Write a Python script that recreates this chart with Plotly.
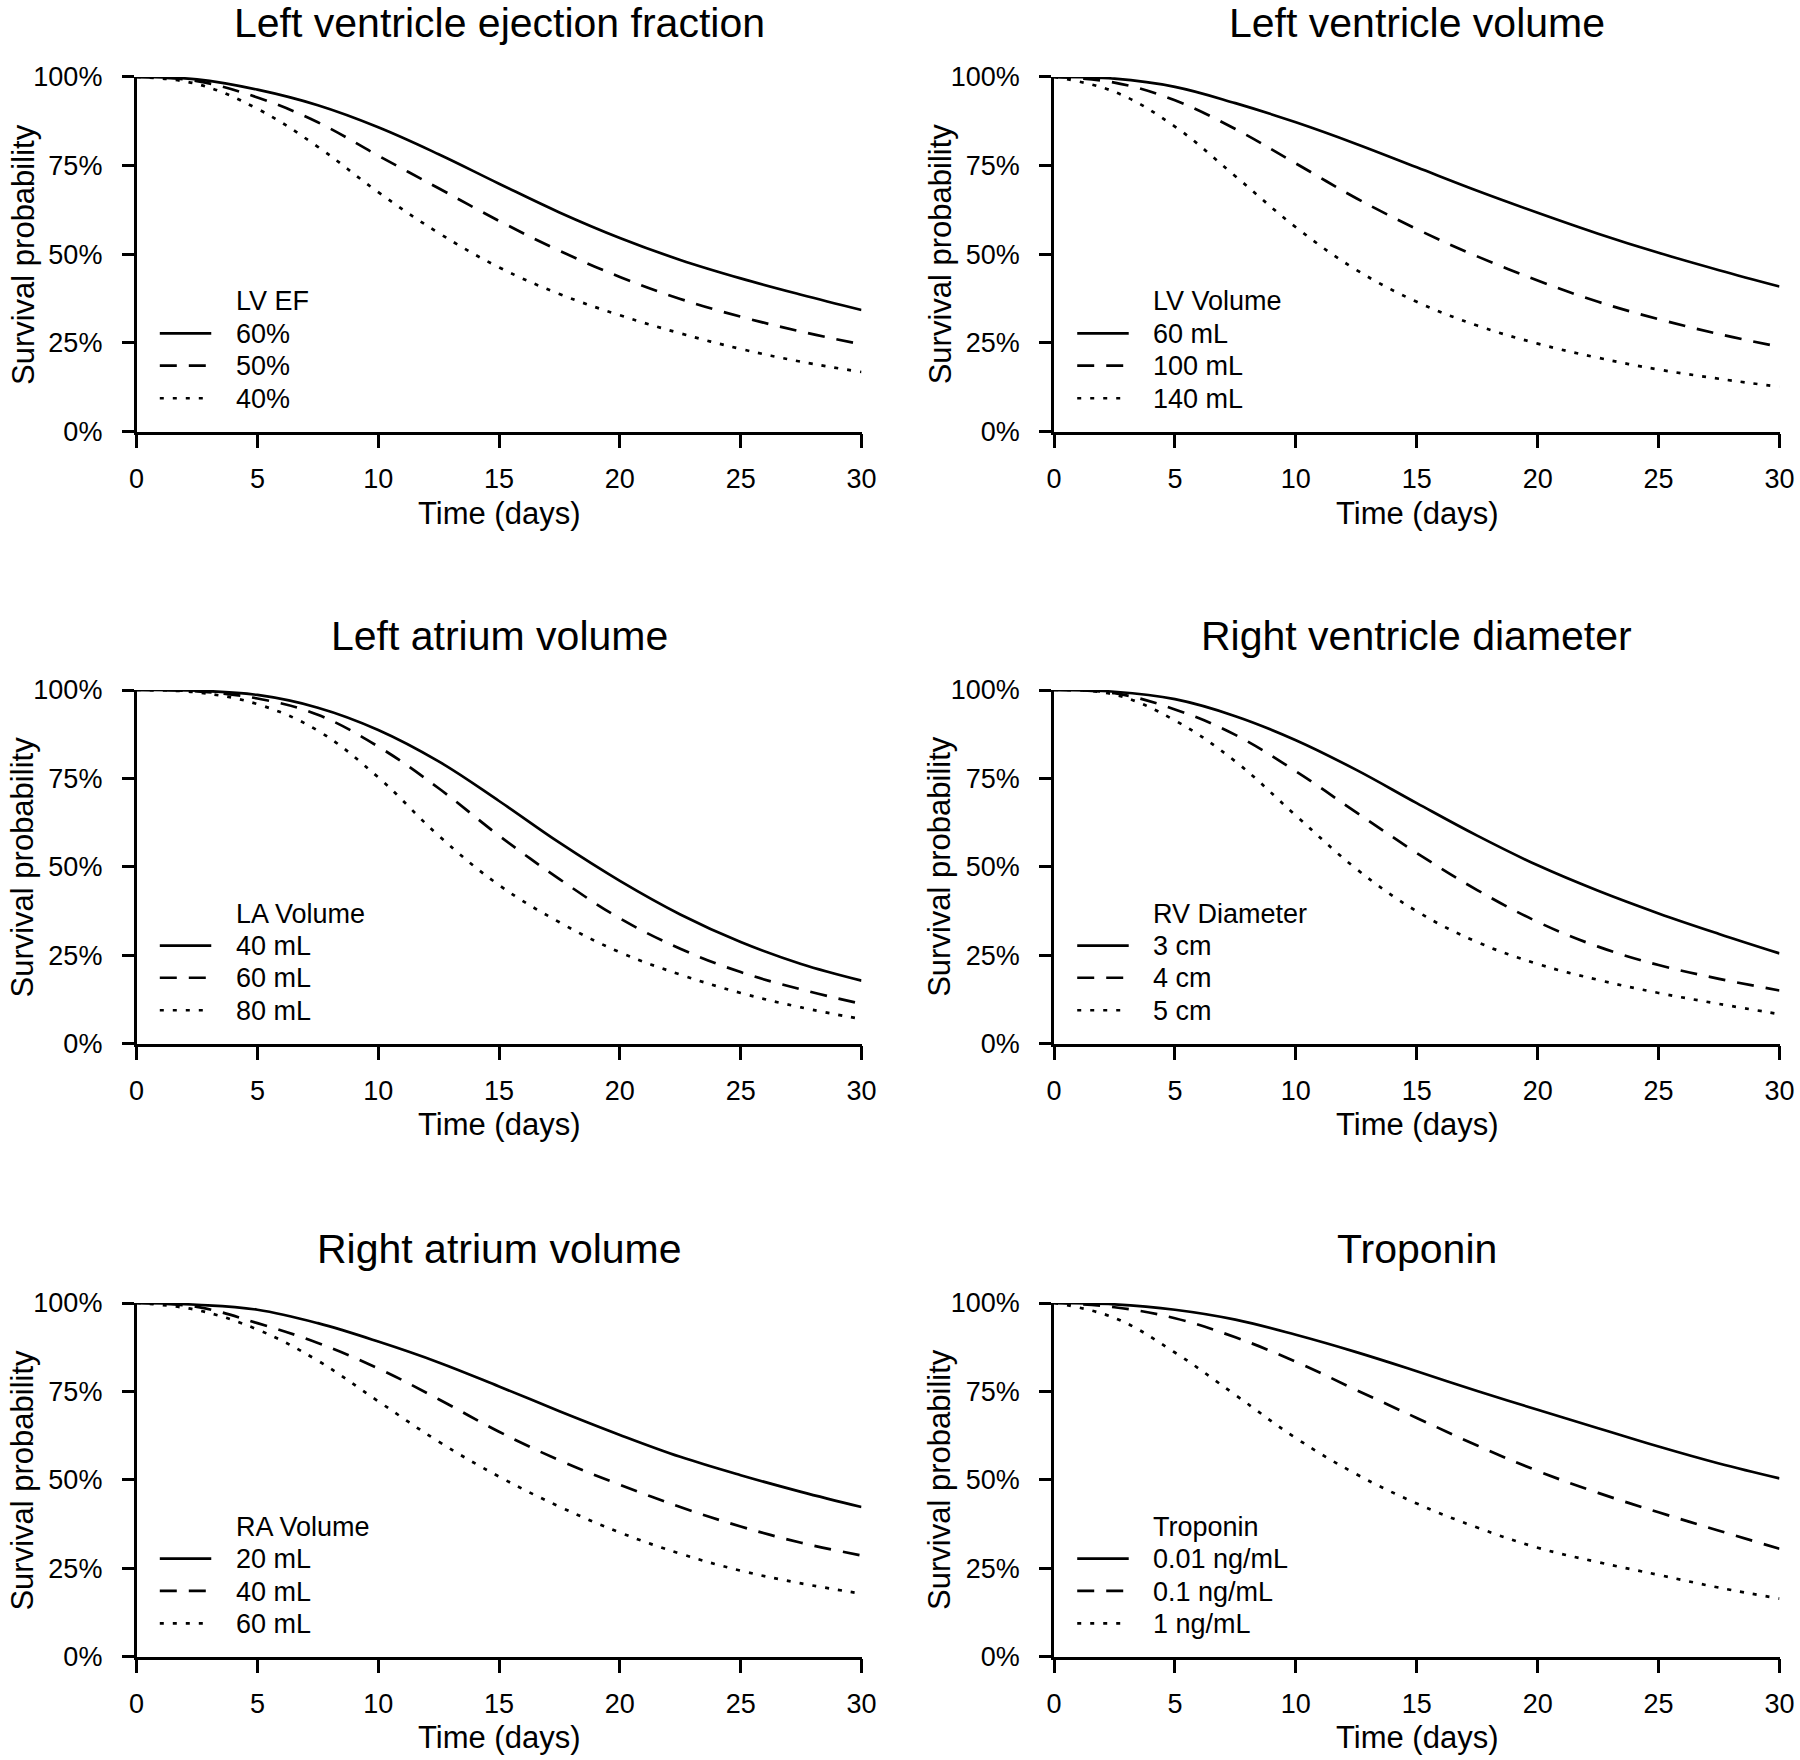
import plotly.graph_objects as go

# ---------------- data ----------------
days = [0, 2.5, 5, 7.5, 10, 12.5, 15, 17.5, 20, 22.5, 25, 27.5, 30]

panel_titles = ["Left ventricle ejection fraction", "Left ventricle volume",
                "Left atrium volume", "Right ventricle diameter",
                "Right atrium volume", "Troponin"]
legend_titles = ["LV EF", "LV Volume", "LA Volume", "RV Diameter", "RA Volume", "Troponin"]
legend_labels = [["60%", "50%", "40%"],
                 ["60 mL", "100 mL", "140 mL"],
                 ["40 mL", "60 mL", "80 mL"],
                 ["3 cm", "4 cm", "5 cm"],
                 ["20 mL", "40 mL", "60 mL"],
                 ["0.01 ng/mL", "0.1 ng/mL", "1 ng/mL"]]

ef_60 = [100, 99.3, 96.4, 92.0, 85.8, 78.2, 69.9, 61.8, 54.6, 48.4, 43.2, 38.6, 34.3]
ef_50 = [100, 98.8, 94.2, 87.2, 77.8, 68.6, 59.4, 51.0, 43.6, 37.4, 32.4, 28.2, 24.6]
ef_40 = [100, 98.0, 91.0, 80.3, 67.5, 56.0, 46.3, 38.8, 32.8, 27.7, 23.3, 19.7, 16.8]

lvv_60 = [100, 99.5, 97.2, 92.6, 87.2, 81.1, 74.5, 67.9, 61.7, 55.8, 50.4, 45.5, 40.9]
lvv_100 = [100, 98.4, 93.4, 85.3, 75.6, 65.8, 57.1, 49.4, 42.6, 36.6, 31.7, 27.5, 23.9]
lvv_140 = [100, 95.8, 86.0, 72.0, 57.6, 45.6, 36.6, 29.9, 24.8, 20.8, 17.5, 14.9, 12.6]

la_40 = [100, 99.8, 98.6, 95.0, 88.7, 79.8, 68.6, 56.8, 46.0, 36.5, 28.7, 22.5, 17.8]
la_60 = [100, 99.6, 97.6, 93.0, 84.0, 72.2, 58.8, 46.5, 35.4, 26.8, 20.2, 15.3, 11.2]
la_80 = [100, 99.3, 96.0, 88.5, 75.3, 58.8, 44.8, 34.3, 25.8, 19.5, 14.3, 10.2, 6.9]

rv_3 = [100, 99.5, 97.4, 92.6, 85.8, 77.4, 68.0, 58.8, 50.4, 43.2, 36.8, 31.0, 25.5]
rv_4 = [100, 99.1, 94.5, 87.3, 77.0, 65.4, 53.9, 43.4, 34.4, 27.4, 22.2, 18.3, 15.0]
rv_5 = [100, 98.7, 91.4, 79.8, 64.5, 49.4, 37.4, 28.7, 22.5, 18.0, 14.3, 11.2, 8.3]

ra_20 = [100, 99.5, 98.1, 94.3, 89.1, 83.2, 76.4, 69.4, 62.7, 56.5, 51.3, 46.6, 42.3]
ra_40 = [100, 98.9, 94.3, 88.7, 81.5, 72.8, 63.6, 55.5, 48.6, 42.3, 36.8, 32.2, 28.6]
ra_60 = [100, 98.0, 92.5, 83.7, 72.2, 60.8, 50.9, 42.4, 35.1, 29.1, 24.3, 20.7, 17.8]

tn_001 = [100, 99.6, 98.1, 95.3, 91.0, 86.1, 80.7, 75.1, 69.8, 64.6, 59.4, 54.6, 50.4]
tn_01 = [100, 98.8, 95.7, 90.3, 83.4, 75.4, 67.5, 59.7, 52.5, 46.3, 40.8, 35.6, 30.5]
tn_1 = [100, 95.8, 86.0, 74.0, 61.8, 51.6, 43.3, 36.5, 30.8, 26.7, 23.1, 19.5, 16.4]

panel_series = [[ef_60, ef_50, ef_40],
                [lvv_60, lvv_100, lvv_140],
                [la_40, la_60, la_80],
                [rv_3, rv_4, rv_5],
                [ra_20, ra_40, ra_60],
                [tn_001, tn_01, tn_1]]

x_ticks = [0, 5, 10, 15, 20, 25, 30]
y_ticks = [0, 25, 50, 75, 100]
y_ticktext = ["0%", "25%", "50%", "75%", "100%"]

# ---------------- styling ----------------
W, H = 1800, 1760
FONT = "Liberation Sans, Arial, Helvetica, sans-serif"
INK = "#000000"
dashes = ["solid", "17px,12px", "4px,9px"]
LW = 2.7

col_px = [(136.6, 861.5), (1054.0, 1779.5)]
row_px = [(76.9, 431.6), (690.0, 1043.5), (1303.0, 1656.6)]

fig = go.Figure()
layout = dict(width=W, height=H, margin=dict(l=0, r=0, t=0, b=0, pad=0, autoexpand=False),
              template="none",
              paper_bgcolor="white", plot_bgcolor="white", showlegend=False,
              font=dict(family=FONT, color=INK))
annotations = []
shapes = []

for i in range(6):
    r, c = divmod(i, 2)
    x0, x1 = col_px[c]
    yt, yb = row_px[r]
    sfx = "" if i == 0 else str(i + 1)
    xa, ya = "x" + sfx, "y" + sfx
    layout["xaxis" + sfx] = dict(
        domain=[x0 / W, x1 / W], anchor=ya, range=[0, 30], automargin=False,
        tickvals=x_ticks, ticks="outside", ticklen=14, tickwidth=2.6, tickcolor=INK,
        showline=True, linecolor=INK, linewidth=2.6, showgrid=False, zeroline=False,
        tickfont=dict(size=27, color=INK, family=FONT), ticklabelstandoff=7,
        fixedrange=True)
    layout["yaxis" + sfx] = dict(
        domain=[1 - yb / H, 1 - yt / H], anchor=xa, range=[0, 100], automargin=False,
        tickvals=y_ticks, ticktext=y_ticktext, ticks="outside", ticklen=12,
        tickwidth=2.6, tickcolor=INK,
        showline=True, linecolor=INK, linewidth=2.6, showgrid=False, zeroline=False,
        tickfont=dict(size=27, color=INK, family=FONT), ticklabelstandoff=14,
        fixedrange=True)

    for k, ys in enumerate(panel_series[i]):
        fig.add_trace(go.Scatter(
            x=days, y=ys, mode="lines", xaxis=xa, yaxis=ya,
            name=legend_labels[i][k],
            line=dict(color=INK, width=LW, dash=dashes[k], shape="spline", smoothing=1.1),
            hoverinfo="skip"))

    xd, yd = xa + " domain", ya + " domain"
    # panel title
    annotations.append(dict(text=panel_titles[i], xref=xd, yref=yd, x=0.5, y=1.152,
                            xanchor="center", yanchor="middle", showarrow=False,
                            font=dict(size=41, color=INK, family=FONT)))
    # x title
    annotations.append(dict(text="Time (days)", xref=xd, yref=yd, x=0.5, y=-0.23,
                            xanchor="center", yanchor="middle", showarrow=False,
                            font=dict(size=31, color=INK, family=FONT)))
    # y title
    annotations.append(dict(text="Survival probability", xref=xd, yref=yd, x=-0.157, y=0.5,
                            xanchor="center", yanchor="middle", textangle=-90,
                            showarrow=False, font=dict(size=31, color=INK, family=FONT)))
    # legend
    annotations.append(dict(text=legend_titles[i], xref=xd, yref=yd, x=0.134, y=0.367,
                            xanchor="left", yanchor="middle", showarrow=False,
                            font=dict(size=27, color=INK, family=FONT)))
    for k, yy in enumerate([0.275, 0.184, 0.092]):
        annotations.append(dict(text=legend_labels[i][k], xref=xd, yref=yd, x=0.134, y=yy,
                                xanchor="left", yanchor="middle", showarrow=False,
                                font=dict(size=27, color=INK, family=FONT)))
        shapes.append(dict(type="line", xref=xd, yref=yd, x0=0.032, x1=0.103,
                           y0=yy + 0.002, y1=yy + 0.002,
                           line=dict(color=INK, width=LW, dash=dashes[k])))

layout["annotations"] = annotations
layout["shapes"] = shapes
fig.update_layout(**layout)
fig.write_html("out.html", config={"displayModeBar": False},
               post_script="document.body.style.margin='0';")
